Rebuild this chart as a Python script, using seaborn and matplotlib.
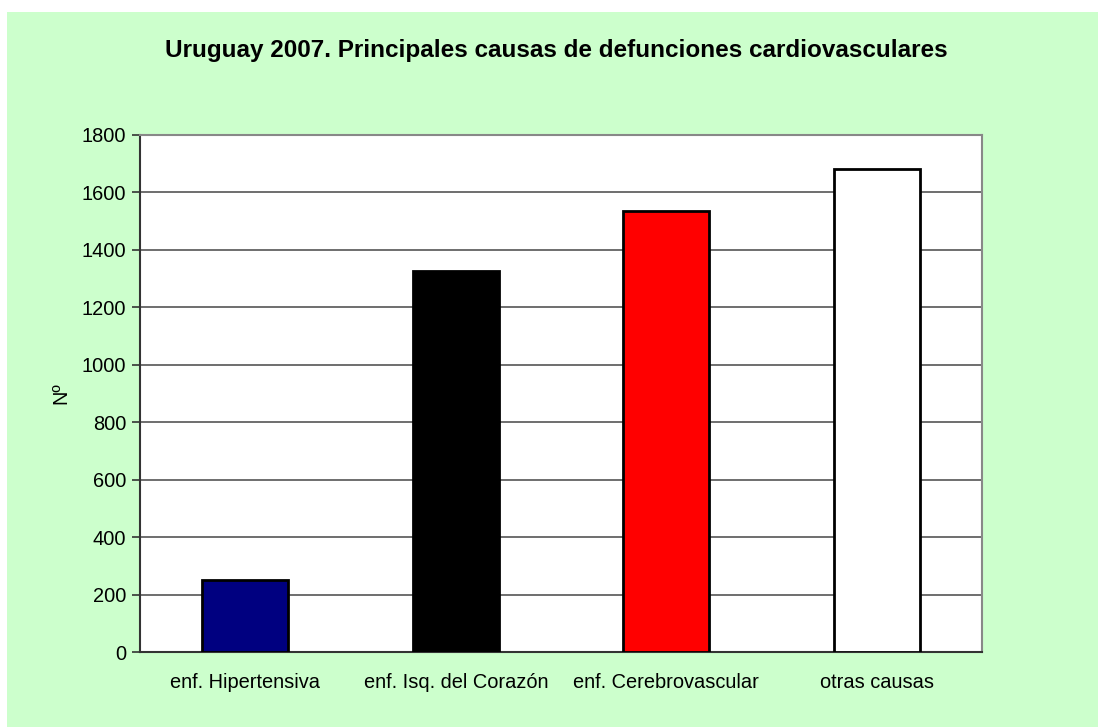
import matplotlib
matplotlib.use("Agg")
import matplotlib.pyplot as plt
import seaborn as sns
import pandas as pd
from matplotlib.patches import Rectangle
from matplotlib.ticker import FixedLocator

# Data
causas = ["enf. Hipertensiva", "enf. Isq. del Corazón", "enf. Cerebrovascular", "otras causas"]
defunciones = [250, 1325, 1535, 1680]
colores = ["#000080", "#000000", "#FF0000", "#FFFFFF"]

data = pd.DataFrame({"causa": causas, "n": defunciones})

sns.set_style("white")
plt.rcParams["font.family"] = ["Liberation Sans", "DejaVu Sans"]
plt.rcParams["text.color"] = "black"
plt.rcParams["xtick.color"] = "black"
plt.rcParams["ytick.color"] = "black"
plt.rcParams["axes.labelcolor"] = "black"

fig = plt.figure(figsize=(10.98, 7.27), dpi=100)
# light green chart background with a thin white margin at top/left
fig.patches.append(Rectangle((7 / 1098, 0), 1 - 7 / 1098, (727 - 12) / 727,
                             transform=fig.transFigure, facecolor="#CCFFCC",
                             edgecolor="none", zorder=-10))

ax = fig.add_axes([140 / 1098, 75 / 727, 842 / 1098, 517 / 727])
ax.set_facecolor("white")

sns.barplot(x="causa", y="n", hue="causa", data=data, palette=colores,
            saturation=1, edgecolor="black", linewidth=2, width=0.41,
            legend=False, ax=ax, zorder=3)

ax.set_ylim(0, 1800)
ax.set_xlim(-0.5, 3.5)
ax.set_yticks(range(0, 1801, 200))
ax.yaxis.grid(True, color="#555555", linewidth=1.2, zorder=0)
ax.set_axisbelow(True)

ax.xaxis.set_minor_locator(FixedLocator([-0.5, 0.5, 1.5, 2.5, 3.5]))
ax.tick_params(axis="x", which="major", length=0, labelsize=14.4, pad=15)
ax.tick_params(axis="x", which="minor", length=6, width=1.2, color="#333333", direction="out")
ax.tick_params(axis="y", length=6, width=1.2, color="#333333", direction="out",
               labelsize=14.4, pad=4, left=True, labelcolor="black")

for side in ["left", "bottom"]:
    ax.spines[side].set_color("#333333")
    ax.spines[side].set_linewidth(1.5)
for side in ["top", "right"]:
    ax.spines[side].set_visible(True)
    ax.spines[side].set_color("#888888")
    ax.spines[side].set_linewidth(1.5)

ax.set_xlabel("")
ax.set_ylabel("Nº", fontsize=14.4, labelpad=8)

fig.text(556 / 1098, 1 - 50 / 727,
         "Uruguay 2007. Principales causas de defunciones cardiovasculares",
         ha="center", va="center", fontsize=17.5, fontweight="bold")

fig.savefig("out.png", dpi=100)
